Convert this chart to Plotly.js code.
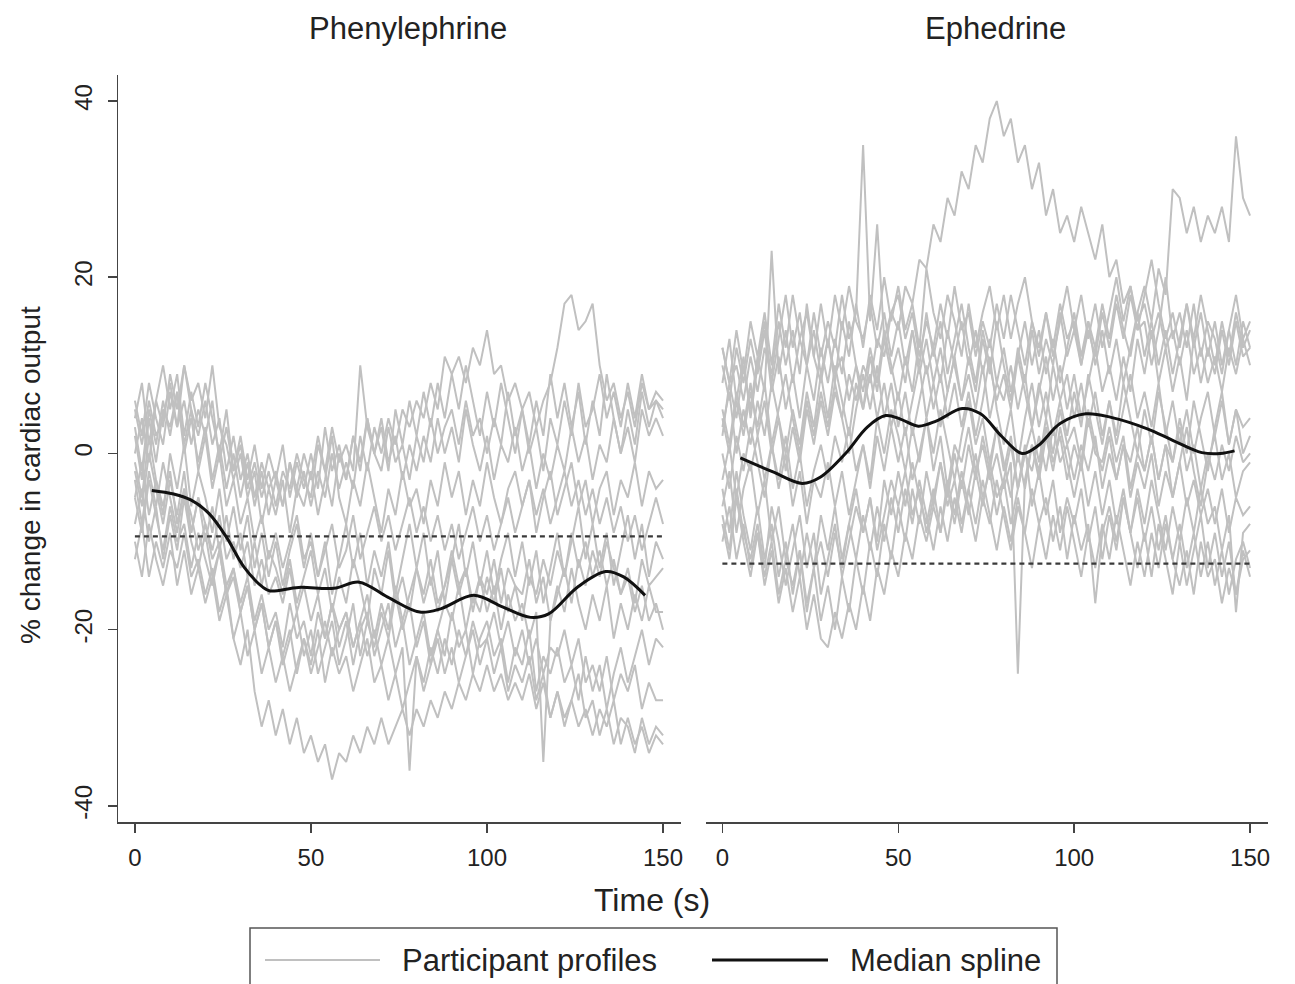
<!DOCTYPE html>
<html>
<head>
<meta charset="utf-8">
<script src="https://cdn.plot.ly/plotly-3.0.1.min.js"></script>
<style>html,body{margin:0;padding:0;background:#fff;}#chart{width:1295px;height:984px;}</style>
</head>
<body>
<div id="chart"></div>
<script>
// ---- Data ----
const panelTitles = ["Phenylephrine", "Ephedrine"];
const xTicks = [0, 50, 100, 150];
const yTicks = [-40, -20, 0, 20, 40];
const yTickText = ["-40", "-20", "0", "20", "40"];
const legendLabels = ["Participant profiles", "Median spline"];

const time = [0,2,4,6,8,10,12,14,16,18,20,22,24,26,28,30,32,34,36,38,40,42,44,46,48,50,52,54,56,58,60,62,64,66,68,70,72,74,76,78,80,82,84,86,88,90,92,94,96,98,100,102,104,106,108,110,112,114,116,118,120,122,124,126,128,130,132,134,136,138,140,142,144,146,148,150];

// Phenylephrine participant profiles (% change in cardiac output)
const ph1 = [3,-2,5,1,6, 2,7,0,4,-1, 3,-3,1,-4,0, -5,-1,-6,-2,-7, -3,-6,-1,-5,-2, -6,-2,-5,0,-4, -1,-4,2,-2,3, 0,4,1,5,3, 6,4,8,5,11, 9,11,8,12,10, 14,9,10,6,8, 5,7,3,6,8, 12,17,18,14,15, 17,10,6,8,4, 7,3,8,5,6, 5];
const ph2 = [5,1,6,2,4, 8,3,6,1,5, 2,6,-1,3,-2, 1,-4,-1,-5,-2, -6,-2,-4,0,-3, -5,1,-2,-6,0, -3,2,-2,4,0, -2,3,-1,1,-3, 2,-1,4,0,3, 5,1,6,2,4, 0,4,1,7,2, 5,0,3,-2,4, 1,6,2,8,3, 5,9,4,7,3, 8,4,9,5,7, 6];
const ph3 = [0,4,-1,6,3, 9,5,10,6,8, 4,10,3,1,-3, 0,-5,-2,-8,-4, -7,-3,-9,-4,-6, -2,-7,-3,2,-5, -8,-3,-6,-1,-5, -9,-4,-7,-2,-6, -4,-8,-3,-6,-1, -5,-2,-7,-3,-6, -1,-5,-8,-4,-2, -6,-3,-9,-5,-2, -7,-4,-1,-6,-3, -8,-4,-2,-7,-3, -5,-1,-6,-2,-4, -3];
const ph4 = [-5,-1,-7,-3,-6, -2,-8,-4,-9,-5, -10,-6,-11,-7,-12, -9,-14,-10,-15,-11, -13,-16,-12,-17,-14, -11,-16,-13,-18,-14, -17,-12,-15,-19,-13, -16,-11,-17,-14,-18, -13,-16,-12,-17,-15, -11,-15,-13,-18,-14, -16,-12,-17,-13,-15, -19,-14,-16,-12,-15, -11,-14,-9,-13,-10, -14,-11,-15,-12,-16, -13,-17,-12,-15,-14, -13];
const ph5 = [-3,-8,-2,-6,-1, -5,-9,-4,-7,-11, -8,-12,-10,-15,-13, -17,-14,-19,-16,-20, -18,-22,-17,-21,-19, -23,-18,-21,-17,-22, -19,-24,-20,-18,-23, -20,-17,-22,-19,-24, -21,-18,-23,-20,-17, -19,-15,-20,-16,-18, -14,-17,-13,-18,-15, -16,-12,-17,-14,-19, -15,-18,-13,-17,-20, -16,-19,-15,-21,-17, -20,-16,-19,-15,-18, -18];
const ph6 = [-8,-4,-10,-6,-12, -7,-11,-5,-10,-13, -9,-14,-11,-16,-13, -18,-15,-20,-17,-22, -19,-24,-21,-18,-23, -20,-25,-22,-19,-24, -21,-17,-23,-19,-22, -18,-21,-16,-20,-17, -22,-19,-24,-20,-23, -18,-22,-20,-25,-21, -19,-23,-21,-26,-22, -24,-20,-27,-23,-25, -22,-26,-24,-28,-23, -27,-24,-29,-25,-22, -26,-23,-20,-24,-21, -22];
const ph7 = [-5,-9,-3,-7,-11, -6,-10,-8,-13,-9, -12,-15,-11,-16,-14, -18,-15,-20,-17,-22, -19,-23,-20,-25,-21, -24,-20,-26,-22,-25, -23,-27,-24,-21,-26, -24,-28,-25,-29,-26, -23,-27,-24,-21,-25, -22,-26,-23,-20,-24, -21,-25,-22,-27,-24, -26,-23,-28,-25,-30, -27,-31,-28,-25,-30, -28,-32,-29,-33,-30, -31,-34,-30,-33,-31, -32];
const ph8 = [-10,-14,-8,-12,-15, -11,-13,-9,-14,-12, -16,-13,-18,-15,-21, -24,-20,-27,-31,-28, -32,-29,-33,-30,-34, -32,-35,-33,-37,-34, -35,-32,-34,-31,-33, -30,-33,-31,-29,-32, -29,-31,-28,-30,-27, -29,-26,-28,-25,-27, -24,-27,-25,-28,-26, -28,-25,-29,-26,-30, -27,-30,-28,-31,-29, -32,-29,-31,-28,-33, -30,-33,-31,-34,-32, -33];
const ph9 = [2,-3,4,-1,5, 3,7,1,5,-2, 2,-4,0,-6,-3, -8,-5,-10,-7,-12, -9,-13,-10,-7,-12, -10,-14,-11,-8,-13, -11,-7,-12,-9,-6, -10,-7,-11,-8,-5, -9,-6,-10,-7,-11, -8,-12,-9,-6,-10, -7,-11,-8,-5,-9, -6,-3,-7,-4,-8, -5,-2,-6,-3,-7, -4,-8,-5,-9,-6, -10,-7,-11,-8,-5, -8];
const ph10 = [-12,-8,-14,-10,-13, -9,-15,-11,-16,-13, -17,-14,-19,-16,-21, -18,-23,-20,-25,-22, -26,-23,-27,-24,-21, -25,-22,-19,-23,-20, -18,-22,-19,-16,-21, -17,-20,-15,-19,-16, -13,-17,-14,-18,-15, -12,-16,-13,-17,-14, -18,-15,-20,-16,-19, -17,-21,-18,-35,-19, -16,-13,-17,-12,-15, -11,-14,-10,-13,-16, -14,-18,-15,-19,-17, -20];
const ph11 = [6,2,8,4,1, 7,3,10,5,2, 6,1,4,-2,2, -3,0,-5,-1,-4, -2,-6,-1,-4,0, -3,2,-2,3,-1, 1,-2,10,3,0, 4,-1,2,-3,1, -2,2,-1,4,0, 3,-1,5,1,-2, 2,-3,1,-1,3, -2,1,-4,0,-3, 1,-2,3,-1,2, -3,1,-1,4,0, 3,-1,5,2,4, 2];
const ph12 = [-2,-6,0,-4,-8, -3,-7,-2,-9,-5, -8,-11,-7,-12,-10, -13,-10,-15,-12,-16, -14,-17,-13,-18,-15, -19,-16,-21,-17,-20, -18,-22,-19,-23,-20, -24,-21,-25,-22,-36, -23,-26,-22,-25,-21, -24,-20,-23,-19,-22, -21,-18,-22,-19,-23, -20,-24,-21,-25,-22, -23,-20,-24,-21,-26, -24,-27,-23,-28,-25, -27,-24,-29,-26,-28, -28];
const ph13 = [-1,-5,2,-3,-7, 0,-4,1,-6,-2, -5,-9,-4,-10,-6, -11,-7,-13,-9,-14, -10,-15,-11,-8,-13, -9,-14,-10,-16,-12, -8,-13,-9,-15,-11, -14,-10,-16,-12,-8, -13,-9,-15,-11,-17, -12,-8,-14,-10,-15, -11,-16,-12,-9,-14, -10,-15,-11,-17,-13, -9,-14,-10,-6,-12, -8,-13,-9,-15,-11, -7,-12,-8,-14,-10, -12];
const ph14 = [4,8,1,6,10, 5,9,2,7,3, 8,4,0,5,-2, 2,-3,1,-4,0, -3,1,-5,-1,-4, 0,-4,3,-2,1, -3,2,-1,4,0, 3,-2,5,1,6, 2,7,3,8,4, 9,5,10,6,2, 7,3,8,4,0, 5,1,6,2,9, 4,8,3,7,1, 6,2,9,4,0, 5,1,7,3,6, 4];

// Ephedrine participant profiles
const ep1 = [5,1,7,3,8, 2,6,0,4,-2, 3,-1,5,1,6, 2,7,4,9,6, 10,8,13,11,16, 14,19,17,22,21, 26,24,29,27,32, 30,35,33,38,40, 36,38,33,35,30, 33,27,30,25,27, 24,28,25,22,26, 20,22,17,19,15, 17,13,16,12,14, 10,14,9,12,8, 11,7,12,9,13, 10];
const ep2 = [10,6,12,8,13, 9,14,7,11,5, 9,4,10,6,12, 8,13,9,15,10, 7,12,8,14,10, 6,11,7,13,9, 12,8,14,10,6, 11,7,13,9,15, 10,6,12,8,14, 9,13,10,16,11, 14,10,15,12,17, 13,18,14,11,16, 19,15,21,18,30, 29,25,28,24,27, 25,28,24,36,29, 27];
const ep3 = [2,8,4,10,5, 11,7,23,9,14, 8,13,10,16,11, 15,12,18,13,16, 35,15,26,13,16, 18,13,16,11,15, 12,17,13,19,14, 16,11,15,12,17, 13,18,14,10,15, 11,16,12,17,13, 15,10,14,11,16, 12,17,13,18,14, 15,10,14,20,13, 16,12,17,11,15, 13,9,14,10,15, 12];
const ep4 = [-8,-12,-5,-10,-14, -9,-15,-11,-17,-13, -18,-14,-20,-16,-21, -22,-18,-21,-17,-20, -15,-19,-13,-16,-11, -14,-9,-12,-7,-10, -6,-9,-4,-8,-3, -7,-2,-6,-1,-5, -3,1,-4,0,-2, 2,-2,3,-1,1, -3,1,-2,2,-4, 0,-3,1,-5,-1, -4,0,-6,-2,-5, -1,-6,-3,-7,-4, -8,-4,-9,-5,-7, -6];
const ep5 = [4,0,6,2,7, 3,8,1,5,9, 4,0,6,2,7, 3,8,4,0,5, 9,5,10,4,8, 3,7,2,6,10, 5,9,4,8,3, 7,2,6,11,5, 1,5,-1,4,8, 3,7,2,6,9, 4,8,3,7,2, 6,1,5,9,4, 7,3,8,2,6, 1,5,0,4,7, 2,6,1,5,3, 4];
const ep6 = [0,-4,2,-2,3, -1,-5,1,-3,2, -4,0,-6,-2,1, -3,2,-1,3,-2, 1,-3,4,0,5, 2,-2,3,-1,4, 0,5,1,-3,2, 6,1,4,-1,3, -2,2,-4,0,3, -1,4,0,5,1, 3,-1,5,1,-2, 2,-3,1,-1,3, -2,2,-3,1,-1, 3,-2,1,-4,0, -3,1,-2,2,-1, 0];
const ep7 = [-6,-2,-9,-4,-1, -7,-3,-10,-6,-12, -8,-14,-9,-13,-7, -11,-6,-12,-8,-4, -9,-5,-10,-3,-7, -2,-6,-1,-5,-8, -4,-9,-3,-7,-2, -6,-10,-5,-8,-3, -7,-11,-6,-9,-4, -8,-5,-10,-6,-12, -7,-11,-8,-17,-9, -6,-10,-5,-9,-4, -8,-3,-7,-11,-6, -10,-5,-9,-4,-8, -6,-11,-7,-18,-9, -8];
const ep8 = [12,8,10,6,11, 7,12,9,15,10, 14,9,17,11,8, 13,9,11,6,10, 5,9,4,8,3, 7,2,6,10,4, 8,3,7,11,6, 9,5,10,4,8, 6,10,5,9,3, 7,11,6,10,5, 9,4,8,12,7, 10,6,11,7,13, 9,14,8,12,7, 11,6,13,8,12, 9,14,10,15,11, 12];
const ep9 = [-7,-11,-4,-9,-12, -8,-13,-6,-10,-15, -11,-7,-13,-9,-16, -12,-8,-14,-10,-6, -9,-5,-11,-7,-3, -6,-2,-7,-4,-9, -5,-1,-6,-3,-8, -4,0,-5,-2,-7, -3,-8,-4,1,-6, -2,-7,-3,-9,-5, -8,-4,-10,-6,-12, -7,-11,-5,-9,-13, -9,-14,-8,-12,-16, -10,-15,-11,-7,-13, -9,-14,-10,-16,-12, -11];
const ep10 = [-3,1,-5,0,-2, 2,-3,1,-4,0, -6,-2,-8,-3,-5, -1,-6,-2,-7,-3, 1,-4,2,-2,3, -1,3,-3,0,4, -2,2,-4,1,-1, 3,-2,1,-3,0, -4,-1,-25,-3,1, -2,3,-1,2,-3, 1,-2,4,0,-1, 3,-1,2,-4,0, -2,2,-3,1,-5, -1,3,-2,-6,-1, 2,-3,0,-5,-2, -1];
const ep11 = [12,8,14,9,15, 11,16,10,17,12, 18,13,16,11,17, 12,18,14,19,15, 13,17,12,16,11, 15,10,14,9,13, 8,12,7,11,15, 10,14,9,13,8, 12,7,11,15,10, 14,9,13,8,12, 16,11,15,10,14, 9,13,8,12,16, 11,15,10,14,9, 13,17,12,16,11, 15,10,14,18,13, 15];
const ep12 = [-10,-6,-12,-8,-13, -9,-14,-10,-16,-12, -15,-11,-17,-13,-10, -14,-9,-13,-8,-12, -7,-11,-6,-10,-5, -9,-4,-8,-3,-7, -11,-6,-10,-5,-9, -4,-8,-3,-7,-11, -6,-10,-5,-9,-13, -8,-12,-7,-11,-6, -10,-14,-9,-13,-8, -12,-7,-11,-15,-10, -14,-9,-13,-8,-12, -15,-11,-16,-10,-14, -12,-17,-13,-16,-11, -14];
const ep13 = [3,7,0,5,1, 6,2,8,4,0, 5,1,7,3,9, 4,10,6,2,8, 5,11,7,13,9, 12,8,14,10,16, 11,15,9,13,17, 12,8,14,10,6, 9,5,11,7,3, 8,4,10,6,2, 7,3,9,5,1, 6,2,8,4,0, 5,1,7,3,-1, 4,0,6,2,-2, 3,7,1,5,0, 2];
const ep14 = [-4,-9,-2,-7,-11, -6,-12,-8,-14,-10, -16,-11,-18,-13,-19, -15,-20,-14,-18,-12, -16,-10,-14,-8,-12, -6,-10,-4,-8,-2, -6,-1,-5,0,-4, 1,-3,2,-2,3, -1,-5,0,-4,1, -3,2,-2,3,-1, -5,-1,-6,-2,-7, -3,-8,-4,-9,-5, -10,-6,-11,-7,-12, -8,-13,-9,-14,-10, -15,-11,-16,-12,-10, -13];
const ep15 = [8,13,6,11,4, 10,15,8,13,18, 12,16,10,14,9, 13,8,15,11,17, 12,18,14,20,15, 19,14,17,12,21, 16,13,18,15,11, 17,12,16,19,14, 18,13,17,20,15, 12,16,11,15,19, 14,18,13,17,12, 16,20,15,19,14, 18,22,17,13,16, 12,17,13,18,14, 10,15,11,16,12, 14];

// Median splines
const phMedT = [4.8, 11, 16, 21, 26, 31, 36.4, 38.4, 46.5, 56.5, 63.7, 71.8, 80.9, 87, 96.2, 104.4, 112.4, 117.5, 125.6, 133.7, 138.8, 144.9];
const phMedV = [-4.2, -4.6, -5.3, -6.8, -9.5, -12.9, -15.2, -15.6, -15.2, -15.3, -14.6, -16.3, -18.0, -17.6, -16.1, -17.4, -18.6, -18.2, -15.2, -13.4, -14.0, -16.1];
const epMedT = [5.1, 14.4, 22.7, 27.8, 35, 41.2, 46.4, 50.6, 55.7, 60.9, 68.2, 73.4, 79.5, 85.2, 89.8, 96, 103.3, 110.5, 120.8, 128, 136.3, 141.5, 145.6];
const epMedV = [-0.5, -2.1, -3.4, -2.7, 0, 3.0, 4.3, 3.9, 3.1, 3.7, 5.1, 4.5, 1.9, 0, 0.9, 3.4, 4.5, 4.1, 2.8, 1.5, 0.1, 0, 0.3];

// Reference (dashed) lines
const refT = [0, 150];
const phRef = [-9.4, -9.4];
const epRef = [-12.5, -12.5];

// ---- Build traces ----
const FONT = '"Liberation Sans", Arial, Helvetica, sans-serif';
const grey = 'rgb(192,192,192)';
const phProfiles = [ph1, ph2, ph3, ph4, ph5, ph6, ph7, ph8, ph9, ph10, ph11, ph12, ph13, ph14];
const epProfiles = [ep1, ep2, ep3, ep4, ep5, ep6, ep7, ep8, ep9, ep10, ep11, ep12, ep13, ep14, ep15];
const traces = [];
phProfiles.forEach(p => traces.push({
  x: time, y: p, xaxis: 'x', yaxis: 'y', type: 'scatter', mode: 'lines',
  line: {color: grey, width: 2}, name: legendLabels[0], showlegend: false, hoverinfo: 'skip'
}));
epProfiles.forEach(p => traces.push({
  x: time, y: p, xaxis: 'x2', yaxis: 'y2', type: 'scatter', mode: 'lines',
  line: {color: grey, width: 2}, name: legendLabels[0], showlegend: false, hoverinfo: 'skip'
}));
traces.push({x: refT, y: phRef, xaxis: 'x', yaxis: 'y', mode: 'lines', line: {color: '#3a3a3a', width: 2.2, dash: '5px,4px'}, showlegend: false});
traces.push({x: refT, y: epRef, xaxis: 'x2', yaxis: 'y2', mode: 'lines', line: {color: '#3a3a3a', width: 2.2, dash: '5px,4px'}, showlegend: false});
traces.push({x: phMedT, y: phMedV, xaxis: 'x', yaxis: 'y', mode: 'lines', line: {color: '#111', width: 3, shape: 'spline', smoothing: 1}, name: legendLabels[1], showlegend: false});
traces.push({x: epMedT, y: epMedV, xaxis: 'x2', yaxis: 'y2', mode: 'lines', line: {color: '#111', width: 3, shape: 'spline', smoothing: 1}, name: legendLabels[1], showlegend: false});

// ---- Layout ----
const L = 118, R = 27, T = 75, B = 162, W = 1295, H = 984;
const pw = W - L - R, ph = H - T - B;
const px = v => (v - L) / pw;          // pixel -> paper x
const py = v => (H - B - v) / ph;      // pixel -> paper y

const xCommon = {
  range: [-4.8, 155.1], tickvals: xTicks, ticks: 'outside', ticklen: 9, tickwidth: 1.5, tickcolor: '#444',
  showline: true, linecolor: '#444', linewidth: 1.5, showgrid: false, zeroline: false,
  tickfont: {family: FONT, size: 24, color: '#222'}, ticklabelstandoff: 5
};
const layout = {
  width: W, height: H,
  margin: {l: L, r: R, t: T, b: B, pad: 0},
  paper_bgcolor: '#fff', plot_bgcolor: '#fff',
  showlegend: false,
  font: {family: FONT, color: '#222'},
  xaxis: Object.assign({}, xCommon, {domain: [0, px(681)], anchor: 'y'}),
  xaxis2: Object.assign({}, xCommon, {domain: [px(705.5), 1], anchor: 'y2'}),
  yaxis: {
    domain: [0, 1], range: [-41.82, 42.95], tickvals: yTicks, ticktext: yTickText, tickangle: -90,
    ticks: 'outside', ticklen: 9, tickwidth: 1.5, tickcolor: '#444',
    showline: true, linecolor: '#444', linewidth: 1.5, showgrid: false, zeroline: false,
    tickfont: {family: FONT, size: 24, color: '#222'}, anchor: 'x', ticklabelstandoff: 6
  },
  yaxis2: {
    domain: [0, 1], range: [-41.82, 42.95], showline: false, showgrid: false, zeroline: false,
    showticklabels: false, ticks: '', anchor: 'x2'
  },
  annotations: [
    {text: panelTitles[0], xref: 'paper', yref: 'paper', x: px(408), y: py(28), showarrow: false, xanchor: 'center', yanchor: 'middle', font: {family: FONT, size: 31, color: '#222'}},
    {text: panelTitles[1], xref: 'paper', yref: 'paper', x: px(995), y: py(28), showarrow: false, xanchor: 'center', yanchor: 'middle', font: {family: FONT, size: 31, color: '#222'}},
    {text: 'Time (s)', xref: 'paper', yref: 'paper', x: px(652), y: py(900), showarrow: false, xanchor: 'center', yanchor: 'middle', font: {family: FONT, size: 32, color: '#222'}},
    {text: '% change in cardiac output', xref: 'paper', yref: 'paper', x: px(30), y: py(475), showarrow: false, xanchor: 'center', yanchor: 'middle', textangle: -90, font: {family: FONT, size: 28, color: '#222'}},
    {text: legendLabels[0], xref: 'paper', yref: 'paper', x: px(400), y: py(960), showarrow: false, xanchor: 'left', yanchor: 'middle', font: {family: FONT, size: 31, color: '#222'}},
    {text: legendLabels[1], xref: 'paper', yref: 'paper', x: px(848), y: py(960), showarrow: false, xanchor: 'left', yanchor: 'middle', font: {family: FONT, size: 31, color: '#222'}}
  ],
  shapes: [
    {type: 'rect', xref: 'paper', yref: 'paper', x0: px(250), x1: px(1057), y0: py(928), y1: py(1000), line: {color: '#555', width: 1.5}, fillcolor: 'rgba(0,0,0,0)'},
    {type: 'line', xref: 'paper', yref: 'paper', x0: px(265), x1: px(380), y0: py(960), y1: py(960), line: {color: grey, width: 2}},
    {type: 'line', xref: 'paper', yref: 'paper', x0: px(712), x1: px(828), y0: py(960), y1: py(960), line: {color: '#111', width: 3}}
  ]
};

Plotly.newPlot('chart', traces, layout, {displayModeBar: false, staticPlot: true});
</script>
</body>
</html>
